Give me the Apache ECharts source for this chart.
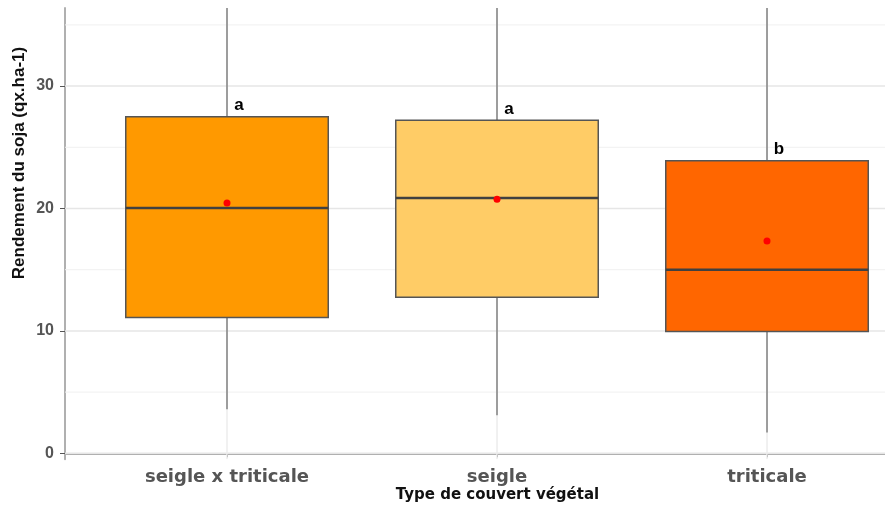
<!DOCTYPE html>
<html><head><meta charset="utf-8">
<script src="https://cdn.jsdelivr.net/npm/echarts@6/dist/echarts.min.js"></script>
<style>html,body{margin:0;padding:0;background:#fff}#c{width:885px;height:510px}</style>
</head><body><div id="c"></div>
<script>
// ---- data ----
const categories = ['seigle x triticale', 'seigle', 'triticale'];
const xPositions = [1, 2, 3];
const whiskerLow = [3.6, 3.1, 1.7];
const q1 = [11.1, 12.75, 9.95];
const medians = [20.05, 20.85, 15.0];
const q3 = [27.5, 27.2, 23.9];
const whiskerHigh = [38, 38, 38];
const means = [20.45, 20.75, 17.35];
const letters = ['a', 'a', 'b'];
const yMajorTicks = [0, 10, 20, 30];
const yMinorTicks = [5, 15, 25, 35];

// ---- styles ----
const fillColors = ['#FF9900', '#FFCC66', '#FF6600'];
const HALF_W = 0.375;

const chart = echarts.init(document.getElementById('c'), null, {renderer: 'canvas'});

function hLineSeries(name, values, color, width) {
  return {
    type: 'custom', name: name, silent: true, z: 1, clip: true,
    data: values.map(v => [v]),
    encode: {y: 0},
    renderItem: function (params, api) {
      const cs = params.coordSys;
      const p = api.coord([1, api.value(0)]);
      return {type: 'line', shape: {x1: cs.x, y1: p[1], x2: cs.x + cs.width, y2: p[1]},
        style: {stroke: color, lineWidth: width}};
    }
  };
}
function vLineSeries(name, values, color, width) {
  return {
    type: 'custom', name: name, silent: true, z: 1, clip: true,
    data: values.map(v => [v]),
    encode: {x: 0},
    renderItem: function (params, api) {
      const cs = params.coordSys;
      const p = api.coord([api.value(0), 10]);
      return {type: 'line', shape: {x1: p[0], y1: cs.y, x2: p[0], y2: cs.y + cs.height},
        style: {stroke: color, lineWidth: width}};
    }
  };
}

const boxData = categories.map((c, i) => [xPositions[i], whiskerLow[i], q1[i], medians[i], q3[i], whiskerHigh[i], means[i], i]);

const option = {
  animation: false,
  backgroundColor: '#ffffff',
  grid: {left: 65, top: 8, right: 0, height: 451.3},
  xAxis: {
    type: 'value', min: 0.4, max: 3.437,
    axisLine: {show: true, lineStyle: {color: '#b0b0b0', width: 2}},
    axisTick: {show: true, customValues: xPositions, length: 4, lineStyle: {color: '#555', width: 1}},
    axisLabel: {show: true, customValues: xPositions, margin: 9,
      formatter: v => categories[Math.round(v) - 1],
      fontFamily: 'DejaVu Sans', fontWeight: 'bold', fontSize: 18, color: '#555555'},
    splitLine: {show: false}
  },
  yAxis: {
    type: 'value', min: -0.49, max: 36.38,
    axisLine: {show: true, lineStyle: {color: '#b0b0b0', width: 2}},
    axisTick: {show: true, customValues: yMajorTicks, length: 5, lineStyle: {color: '#555', width: 1}},
    axisLabel: {show: true, customValues: yMajorTicks, margin: 11,
      fontFamily: 'Liberation Sans', fontWeight: 'bold', fontSize: 16, color: '#555555'},
    splitLine: {show: false}
  },
  graphic: [
    {type: 'text', x: 497.5, y: 495, silent: true,
      style: {text: 'Type de couvert végétal', align: 'center', verticalAlign: 'middle',
        font: 'bold 15px "DejaVu Sans"', fill: '#111111'}},
    {type: 'text', x: 19, y: 163, rotation: Math.PI / 2, silent: true,
      style: {text: 'Rendement du soja (qx.ha-1)', align: 'center', verticalAlign: 'middle',
        font: 'bold 17px "Liberation Sans"', fill: '#111111'}}
  ],
  series: [
    hLineSeries('minorGrid', yMinorTicks, '#f0f0f0', 1),
    hLineSeries('majorGrid', yMajorTicks, '#e6e6e6', 1.5),
    vLineSeries('xGrid', xPositions, '#ececec', 1.5),
    {
      type: 'custom', name: 'boxes', z: 5, clip: true,
      data: boxData,
      encode: {x: 0, y: [1, 2, 3, 4, 5, 6]},
      renderItem: function (params, api) {
        const x = api.value(0);
        const idx = api.value(7);
        const low = api.coord([x, api.value(1)]);
        const b1 = api.coord([x - HALF_W, api.value(2)]);
        const med = api.coord([x - HALF_W, api.value(3)]);
        const b3 = api.coord([x + HALF_W, api.value(4)]);
        const high = api.coord([x, api.value(5)]);
        const mean = api.coord([x, api.value(6)]);
        const cx = low[0];
        return {
          type: 'group',
          children: [
            {type: 'line', shape: {x1: cx, y1: high[1], x2: cx, y2: b3[1]}, style: {stroke: '#666666', lineWidth: 1.2}},
            {type: 'line', shape: {x1: cx, y1: b1[1], x2: cx, y2: low[1]}, style: {stroke: '#666666', lineWidth: 1.2}},
            {type: 'rect', shape: {x: b1[0], y: b3[1], width: b3[0] - b1[0], height: b1[1] - b3[1]},
              style: {fill: fillColors[idx], stroke: '#555555', lineWidth: 1.5}},
            {type: 'line', shape: {x1: med[0], y1: med[1], x2: b3[0], y2: med[1]}, style: {stroke: '#404040', lineWidth: 2.5}},
            {type: 'circle', shape: {cx: mean[0], cy: mean[1], r: 3.5}, style: {fill: '#ff0000'}},
            {type: 'text', x: cx + 12, y: b3[1] - 11,
              style: {text: letters[idx], align: 'center', verticalAlign: 'middle',
                font: 'bold 17px "Liberation Sans"', fill: '#000000'}}
          ]
        };
      }
    }
  ]
};
chart.setOption(option);
</script>
</body></html>
